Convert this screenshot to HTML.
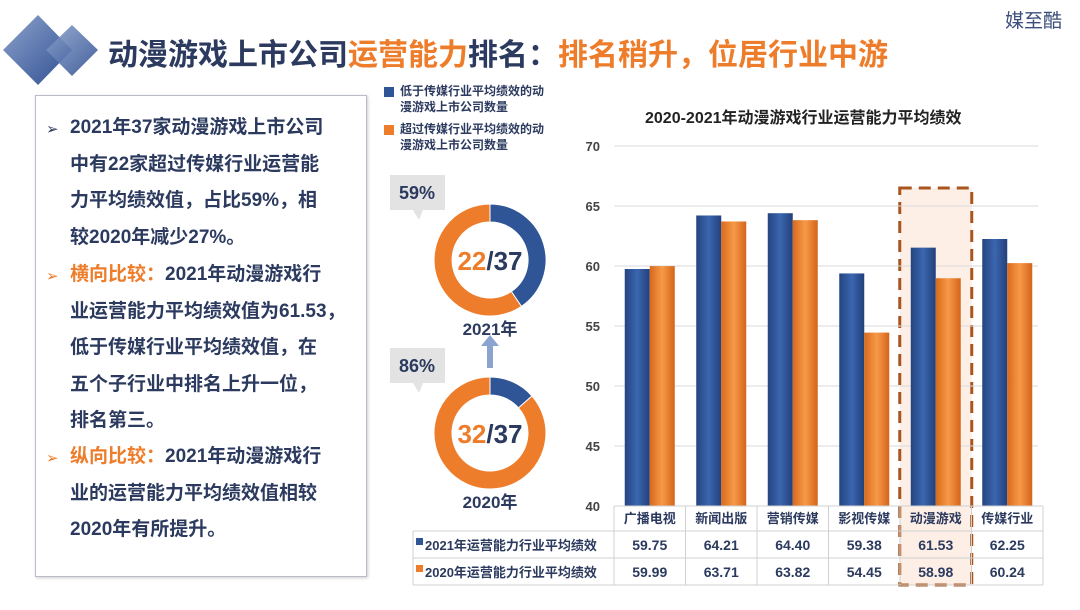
<!DOCTYPE html>
<html><head><meta charset="utf-8">
<style>
body{margin:0;width:1080px;height:610px;background:#fff;overflow:hidden;font-family:"Liberation Sans","Noto Sans CJK SC",sans-serif;position:relative}
.t{position:absolute;white-space:nowrap}
#box{position:absolute;left:35px;top:95px;width:330px;height:480px;border:1px solid #b8bccb;box-shadow:1px 1px 3px #ccc}
#box p{margin:0;position:absolute;left:34px;font-size:19px;font-weight:bold;color:#2b3a5e;line-height:36.6px}
.ar{position:absolute;left:10px;font-size:15px}
</style></head><body>
<svg width="110" height="90" style="position:absolute;left:0;top:10px">
<defs><linearGradient id="dg" x1="0" y1="0" x2="1" y2="1"><stop offset="0" stop-color="#8da3cc"/><stop offset="1" stop-color="#2f4f92"/></linearGradient></defs>
<polygon points="38,5 72,40 38,75 3,40" fill="url(#dg)"/>
<polygon points="72,15 98,40 72,66 46,40" fill="url(#dg)" opacity="0.9"/>
</svg>
<div class="t" style="left:108px;top:30px;font-size:30px;font-weight:bold;color:#2b3a5e">动漫游戏上市公司<span style="color:#ee7d2b">运营能力</span>排名：<span style="color:#ee7d2b">排名稍升，位居行业中游</span></div>
<div class="t" style="left:1005px;top:6px;font-size:19px;color:#3c4e7c">媒至酷</div>

<div id="box">
<span class="ar" style="top:24px;color:#2b3a5e">➢</span>
<p style="top:14px">2021年37家动漫游戏上市公司<br>中有22家超过传媒行业运营能<br>力平均绩效值，占比59%，相<br>较2020年减少27%。</p>
<span class="ar" style="top:171px;color:#ee7d2b">➢</span>
<p style="top:161px"><span style="color:#ee7d2b">横向比较：</span>2021年动漫游戏行<br>业运营能力平均绩效值为61.53，<br>低于传媒行业平均绩效值，在<br>五个子行业中排名上升一位，<br>排名第三。</p>
<span class="ar" style="top:353px;color:#ee7d2b">➢</span>
<p style="top:343px"><span style="color:#ee7d2b">纵向比较：</span>2021年动漫游戏行<br>业的运营能力平均绩效值相较<br>2020年有所提升。</p>
</div>

<div style="position:absolute;left:384px;top:83px;font-size:12px;font-weight:bold;color:#2b3a5e;line-height:16px">
<div style="position:absolute;left:0;top:4px;width:10px;height:10px;background:#2f5597"></div>
<div class="t" style="left:16px;top:0">低于传媒行业平均绩效的动<br>漫游戏上市公司数量</div>
<div style="position:absolute;left:0;top:42px;width:10px;height:10px;background:#ee7d2b"></div>
<div class="t" style="left:16px;top:38px">超过传媒行业平均绩效的动<br>漫游戏上市公司数量</div>
</div>

<svg id="donuts" width="1080" height="610" style="position:absolute;left:0;top:0"></svg>
<div class="t" style="left:645px;top:104px;font-size:16px;font-weight:bold;color:#222">2020-2021年动漫游戏行业运营能力平均绩效</div>
<svg id="chart" width="1080" height="610" style="position:absolute;left:0;top:0"></svg>

<script>
const categories=["广播电视","新闻出版","营销传媒","影视传媒","动漫游戏","传媒行业"];
const values2021=[59.75,64.21,64.40,59.38,61.53,62.25];
const values2020=[59.99,63.71,63.82,54.45,58.98,60.24];
const yTicks=[40,45,50,55,60,65,70];
const donutYears=["2021年","2020年"];
const donutAbove=[22,32];
const donutTotal=[37,37];
const donutPct=["59%","86%"];

const NS="http://www.w3.org/2000/svg";
function mk(p,tag,a,txt){const e=document.createElementNS(NS,tag);for(const k in a)e.setAttribute(k,a[k]);if(txt!==undefined)e.textContent=txt;p.appendChild(e);return e;}
const svg=document.getElementById('chart');
const y0=506,pxU=12,x0=614,colW=71.5;
const Y=v=>y0-(v-40)*pxU;
const X=i=>x0+colW*i+colW/2;

const hi=categories.indexOf("动漫游戏");
let h=mk(svg,'rect',{x:X(hi)-36,y:188,width:72,height:397,fill:'#fcebe0',stroke:'#a9561e','stroke-width':3,'stroke-dasharray':'12,7'});


h.setAttribute('fill-opacity','0.8');

yTicks.forEach(t=>{
 let l=mk(svg,'line',{x1:x0,x2:1038,y1:Y(t),y2:Y(t),stroke:'#d9d9d9'});
 
 
 let tx=mk(svg,'text',{x:600,y:Y(t)+5,'text-anchor':'end','font-size':13,'font-weight':'bold',fill:'#444'},t);
 
 
});
const defs=mk(svg,'defs',{});
const gb=mk(defs,'linearGradient',{id:'gb',x1:0,x2:1,y1:0,y2:0});
mk(gb,'stop',{offset:0,'stop-color':'#24447f'});mk(gb,'stop',{offset:.5,'stop-color':'#3b66b0'});mk(gb,'stop',{offset:1,'stop-color':'#22407a'});
const go=mk(defs,'linearGradient',{id:'go',x1:0,x2:1,y1:0,y2:0});
mk(go,'stop',{offset:0,'stop-color':'#d8691c'});mk(go,'stop',{offset:.5,'stop-color':'#f79a48'});mk(go,'stop',{offset:1,'stop-color':'#d4641a'});
categories.forEach((c,i)=>{
 let b=mk(svg,'rect',{x:X(i)-25,y:Y(values2021[i]),width:25,height:y0-Y(values2021[i]),fill:'url(#gb)'});
 
 
 let o=mk(svg,'rect',{x:X(i),y:Y(values2020[i]),width:25,height:y0-Y(values2020[i]),fill:'url(#go)'});
 
 
});
const tl=413,rows=[506,531,558,585];
function ln(x1,y1,x2,y2){let l=mk(svg,'line',{x1,y1,x2,y2,stroke:'#d0d0d0'});}
ln(x0,rows[0],x0+colW*6,rows[0]);
rows.slice(1).forEach(r=>ln(tl,r,x0+colW*6,r));
ln(tl,rows[1],tl,rows[3]);
for(let i=0;i<=6;i++)ln(x0+colW*i,rows[0],x0+colW*i,rows[3]);
categories.forEach((c,i)=>{
 let t=mk(svg,'text',{x:X(i),y:523,'text-anchor':'middle','font-size':13,'font-weight':'bold',fill:'#2b3a5e'},c);
 
 
 let a=mk(svg,'text',{x:X(i),y:550,'text-anchor':'middle','font-size':14,'font-weight':'bold',fill:'#2b3a5e'},values2021[i].toFixed(2));
 
 
 let b=mk(svg,'text',{x:X(i),y:577,'text-anchor':'middle','font-size':14,'font-weight':'bold',fill:'#2b3a5e'},values2020[i].toFixed(2));
 
 
});
mk(svg,'rect',{x:416,y:538,width:7,height:7,fill:'#2f5597'});
mk(svg,'rect',{x:416,y:565,width:7,height:7,fill:'#ee7d2b'});
let r1=mk(svg,'text',{x:425,y:550,'font-size':13,'font-weight':'bold',fill:'#2b3a5e'},"2021年运营能力行业平均绩效");


let r2=mk(svg,'text',{x:425,y:577,'font-size':13,'font-weight':'bold',fill:'#2b3a5e'},"2020年运营能力行业平均绩效");



const ds=document.getElementById('donuts');
const cy=[260,433],cx=490,R=56,ri=38;
donutYears.forEach((yr,k)=>{
 const c=cy[k];
 const below=donutTotal[k]-donutAbove[k];
 const f=below/donutTotal[k];
 const P=(a,r)=>(cx+r*Math.sin(a)).toFixed(1)+','+(c-r*Math.cos(a)).toFixed(1);
 const a1=f*2*Math.PI;
 const seg=(s,e,col,name)=>{
  const lg=(e-s)>Math.PI?1:0;
  let p=mk(ds,'path',{d:`M${P(s,R)} A${R},${R} 0 ${lg} 1 ${P(e,R)} L${P(e,ri)} A${ri},${ri} 0 ${lg} 0 ${P(s,ri)}Z`,fill:col,stroke:'#fff','stroke-width':1});
  
  
 };
 seg(0,a1,'#2f5597','donut-below-slice');
 seg(a1,2*Math.PI-0.0001,'#ee7d2b','donut-above-slice');
 let t=mk(ds,'text',{x:cx,y:c+10,'text-anchor':'middle','font-size':26,'font-weight':'bold',fill:'#2b3a5e'});
 
 
 mk(t,'tspan',{fill:'#ee7d2b'},donutAbove[k]);mk(t,'tspan',{},'/'+donutTotal[k]);
 let y=mk(ds,'text',{x:cx,y:c+75,'text-anchor':'middle','font-size':17,'font-weight':'bold',fill:'#2b3a5e'},yr);
 
 
 let b=mk(ds,'path',{d:`M390,${c-85} h55 v35 h-22 l-4,10 l-6,-10 h-23 z`,fill:'#e3e3e3'});
 
 
 let pt=mk(ds,'text',{x:417,y:c-61,'text-anchor':'middle','font-size':18,'font-weight':'bold',fill:'#2b3a5e'},donutPct[k]);
 
 
});
let arw=mk(ds,'path',{d:'M490,335 l-9,11 h6 v22 h6 v-22 h6 z',fill:'#8ba3cf'});


</script>
</body></html>
